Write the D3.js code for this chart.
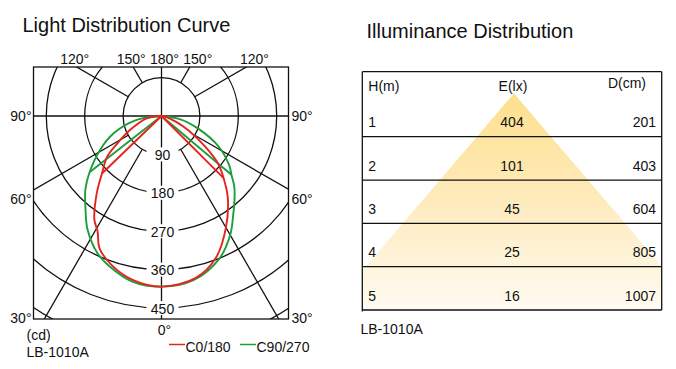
<!DOCTYPE html>
<html>
<head>
<meta charset="utf-8">
<script src="https://cdn.jsdelivr.net/npm/d3@7"></script>
<style>
body { margin: 0; background: #fff; }
text { font-family: "Liberation Sans", Arial, sans-serif; fill: #111; }
</style>
</head>
<body>
<div id="chart"></div>
<script>
// polar grid
var ringValues = [90, 180, 270, 360, 450, 540];
var ringLabels = [90, 180, 270, 360, 450];
var spokeAngles = [-150, -120, -60, -30, 30, 60, 120, 150];
var topLabels = [[-120, "120°"], [-150, "150°"], [180, "180°"], [150, "150°"], [120, "120°"]];
var sideLabels = ["90°", "60°", "30°"];

// intensity curves, [angle from nadir (left negative), cd]
var c0Curve = [[-90, 0], [-81, 35], [-66, 81], [-58, 123], [-53, 160], [-46, 194], [-40, 236],
    [-33, 289], [-29, 309], [-25, 343], [-18, 370], [-10, 390], [0, 400], [12, 388], [21, 356],
    [30, 302], [39, 247], [45, 206], [50, 173], [55, 125], [62, 72], [68, 38], [78, 12], [90, 0]];
var c0Rays = [[-46, 194], [45, 206]];
var c90Curve = [[-90, 0], [-81, 59], [-70, 120], [-61, 165], [-52, 214], [-46, 248], [-39, 283],
    [-33, 318], [-25, 355], [-19, 373], [-10, 394], [0, 400], [11, 392], [22, 361], [30, 322],
    [36, 286], [42, 256], [46, 237], [50, 214], [54, 196], [62, 151], [71, 91], [80, 45], [90, 0]];
var c90Rays = [[-52, 214], [50, 214]];

// illuminance table
var heights = [1, 2, 3, 4, 5];
var lux = [404, 101, 45, 25, 16];
var diameters = [201, 403, 604, 805, 1007];
var columns = ["H(m)", "E(lx)", "D(cm)"];

var width = 676, height = 369;
var red = "#e4241f", green = "#1c9d3d";

var svg = d3.select("#chart").append("svg")
    .attr("width", width)
    .attr("height", height);

// ---------- light distribution curve ----------
var box = { left: 33.5, right: 288.5, top: 67, bottom: 319 };
var cx = 161.5, cy = 116;
var r = d3.scaleLinear().domain([0, 450]).range([0, 192]);
var rad = function(a) { return a * Math.PI / 180; };
function px(a, v) { return cx + r(v) * Math.sin(rad(a)); }
function py(a, v) { return cy + r(v) * Math.cos(rad(a)); }

svg.append("text")
    .attr("x", 22.5).attr("y", 31.5)
    .style("font-size", "20px")
    .text("Light Distribution Curve");

svg.append("defs").append("clipPath").attr("id", "polarClip")
  .append("rect")
    .attr("x", box.left).attr("y", box.top)
    .attr("width", box.right - box.left).attr("height", box.bottom - box.top);

var grid = svg.append("g")
    .attr("clip-path", "url(#polarClip)")
    .attr("stroke", "#111")
    .attr("stroke-width", 1.3)
    .attr("fill", "none");

grid.selectAll("circle.ring")
  .data(ringValues)
  .enter().append("circle")
    .attr("class", "ring")
    .attr("cx", cx).attr("cy", cy)
    .attr("r", function(d) { return r(d); });

grid.selectAll("line.spoke")
  .data(spokeAngles)
  .enter().append("line")
    .attr("class", "spoke")
    .attr("x1", function(d) { return px(d, ringValues[0]); })
    .attr("y1", function(d) { return py(d, ringValues[0]); })
    .attr("x2", function(d) { return px(d, 1200); })
    .attr("y2", function(d) { return py(d, 1200); });

grid.append("line")
    .attr("x1", box.left).attr("x2", box.right)
    .attr("y1", cy).attr("y2", cy);
grid.append("line")
    .attr("x1", cx).attr("x2", cx)
    .attr("y1", box.top).attr("y2", box.bottom);

// ring labels with gaps
var ringLab = svg.append("g");
ringLab.selectAll("rect")
  .data(ringLabels)
  .enter().append("rect")
    .attr("x", cx - 15).attr("width", 32)
    .attr("y", function(d) { return cy + r(d) - 7; })
    .attr("height", 14)
    .attr("fill", "#fff");
ringLab.selectAll("text")
  .data(ringLabels)
  .enter().append("text")
    .attr("x", cx + 1)
    .attr("y", function(d) { return cy + r(d) + 5.5; })
    .attr("text-anchor", "middle")
    .style("font-size", "14px")
    .text(function(d) { return d; });

// curves
var radial = d3.lineRadial()
    .angle(function(d) { return Math.PI - rad(d[0]); })
    .radius(function(d) { return r(d[1]); })
    .curve(d3.curveCatmullRom.alpha(0.5));

var curves = svg.append("g").attr("transform", "translate(" + cx + "," + cy + ")")
    .attr("fill", "none").attr("stroke-width", 1.9)
    .attr("stroke-linejoin", "round");

[[c90Curve, c90Rays, green], [c0Curve, c0Rays, red]].forEach(function(s) {
  curves.append("path")
      .attr("d", radial(s[0]))
      .attr("stroke", s[2]);
  curves.selectAll(null)
    .data(s[1])
    .enter().append("line")
      .attr("x1", 0).attr("y1", 0)
      .attr("x2", function(d) { return px(d[0], d[1]) - cx; })
      .attr("y2", function(d) { return py(d[0], d[1]) - cy; })
      .attr("stroke", s[2]);
});

svg.append("rect")
    .attr("x", box.left).attr("y", box.top)
    .attr("width", box.right - box.left).attr("height", box.bottom - box.top)
    .attr("fill", "none").attr("stroke", "#111").attr("stroke-width", 1.3);

// angle labels
svg.selectAll("text.top")
  .data(topLabels)
  .enter().append("text")
    .attr("class", "top")
    .attr("x", function(d) {
      if (d[0] === 180) return cx + 3;
      var dx = (cy - box.top) * Math.tan(Math.PI - rad(Math.abs(d[0])));
      var s = d[0] < 0 ? -1 : 1;
      return cx + s * (dx + 5) + 3;
    })
    .attr("y", 64)
    .attr("text-anchor", "middle")
    .style("font-size", "14px")
    .text(function(d) { return d[1]; });

var sideY = [cy + 5, 204, 323];
sideLabels.forEach(function(t, i) {
  svg.append("text").attr("x", 31.5).attr("y", sideY[i])
      .attr("text-anchor", "end").style("font-size", "14px").text(t);
  svg.append("text").attr("x", 291.5).attr("y", sideY[i])
      .style("font-size", "14px").text(t);
});
svg.append("text").attr("x", cx + 3).attr("y", 335)
    .attr("text-anchor", "middle").style("font-size", "14px").text("0°");

svg.append("text").attr("x", 26.5).attr("y", 340)
    .style("font-size", "14px").text("(cd)");
svg.append("text").attr("x", 26.5).attr("y", 356.5)
    .style("font-size", "14px").text("LB-1010A");

// legend
var legend = [["C0/180", red, 169], ["C90/270", green, 240]];
legend.forEach(function(l) {
  svg.append("line").attr("x1", l[2]).attr("x2", l[2] + 16)
      .attr("y1", 344.5).attr("y2", 344.5)
      .attr("stroke", l[1]).attr("stroke-width", 1.5);
  svg.append("text").attr("x", l[2] + 16.5).attr("y", 352)
      .style("font-size", "14px").text(l[0]);
});

// ---------- illuminance distribution ----------
var tb = { left: 362.3, right: 661.7, top: 71.7 };
var yH = d3.scaleLinear().domain([0, 5]).range([93.4, 310]);
var halfW = d3.scaleLinear().domain([0, 1000]).range([0, 184]);
var apexX = 514;

svg.append("text")
    .attr("x", 366.5).attr("y", 37.5)
    .style("font-size", "20px")
    .text("Illuminance Distribution");

var defs = svg.select("defs");
var grad = defs.append("linearGradient").attr("id", "beam")
    .attr("gradientUnits", "userSpaceOnUse")
    .attr("x1", 0).attr("x2", 0)
    .attr("y1", yH(0)).attr("y2", yH(5));
grad.append("stop").attr("offset", 0).attr("stop-color", "#fde08c");
grad.append("stop").attr("offset", 0.5).attr("stop-color", "#feebbd");
grad.append("stop").attr("offset", 1).attr("stop-color", "#fffbf2");

defs.append("clipPath").attr("id", "tableClip")
  .append("rect")
    .attr("x", tb.left).attr("y", tb.top)
    .attr("width", tb.right - tb.left).attr("height", yH(5) - tb.top);

var last = diameters.length - 1;
svg.append("path")
    .attr("clip-path", "url(#tableClip)")
    .attr("d", "M" + apexX + "," + yH(0) +
      "L" + (apexX - halfW(diameters[last])) + "," + yH(heights[last]) +
      "L" + (apexX + halfW(diameters[last])) + "," + yH(heights[last]) + "Z")
    .attr("fill", "url(#beam)");

var tg = svg.append("g").attr("stroke", "#111").attr("stroke-width", 1.3);
tg.append("line").attr("x1", tb.left).attr("x2", tb.right).attr("y1", tb.top).attr("y2", tb.top);
tg.selectAll("line.row")
  .data(heights)
  .enter().append("line")
    .attr("class", "row")
    .attr("x1", tb.left).attr("x2", tb.right)
    .attr("y1", function(d) { return yH(d); })
    .attr("y2", function(d) { return yH(d); });
tg.append("line").attr("x1", tb.left).attr("x2", tb.left).attr("y1", tb.top).attr("y2", yH(5) + 1.5);
tg.append("line").attr("x1", tb.right).attr("x2", tb.right).attr("y1", tb.top).attr("y2", yH(5));

var colX = [368.3, 512, 656];
var colAnchor = ["start", "middle", "end"];
svg.selectAll("text.head")
  .data(columns)
  .enter().append("text")
    .attr("class", "head")
    .attr("x", function(d, i) { return i === 2 ? 646 : colX[i] + (i === 1 ? 1 : 0); })
    .attr("y", function(d, i) { return i === 2 ? 88.3 : 90.5; })
    .attr("text-anchor", function(d, i) { return colAnchor[i]; })
    .style("font-size", "14px")
    .text(function(d) { return d; });

heights.forEach(function(h, i) {
  var row = [h, lux[i], diameters[i]];
  row.forEach(function(v, j) {
    svg.append("text")
        .attr("x", colX[j])
        .attr("y", yH(h) - 9.5)
        .attr("text-anchor", colAnchor[j])
        .style("font-size", "14px")
        .text(v);
  });
});

svg.append("text").attr("x", 360.5).attr("y", 334)
    .style("font-size", "14px").text("LB-1010A");
</script>
</body>
</html>
